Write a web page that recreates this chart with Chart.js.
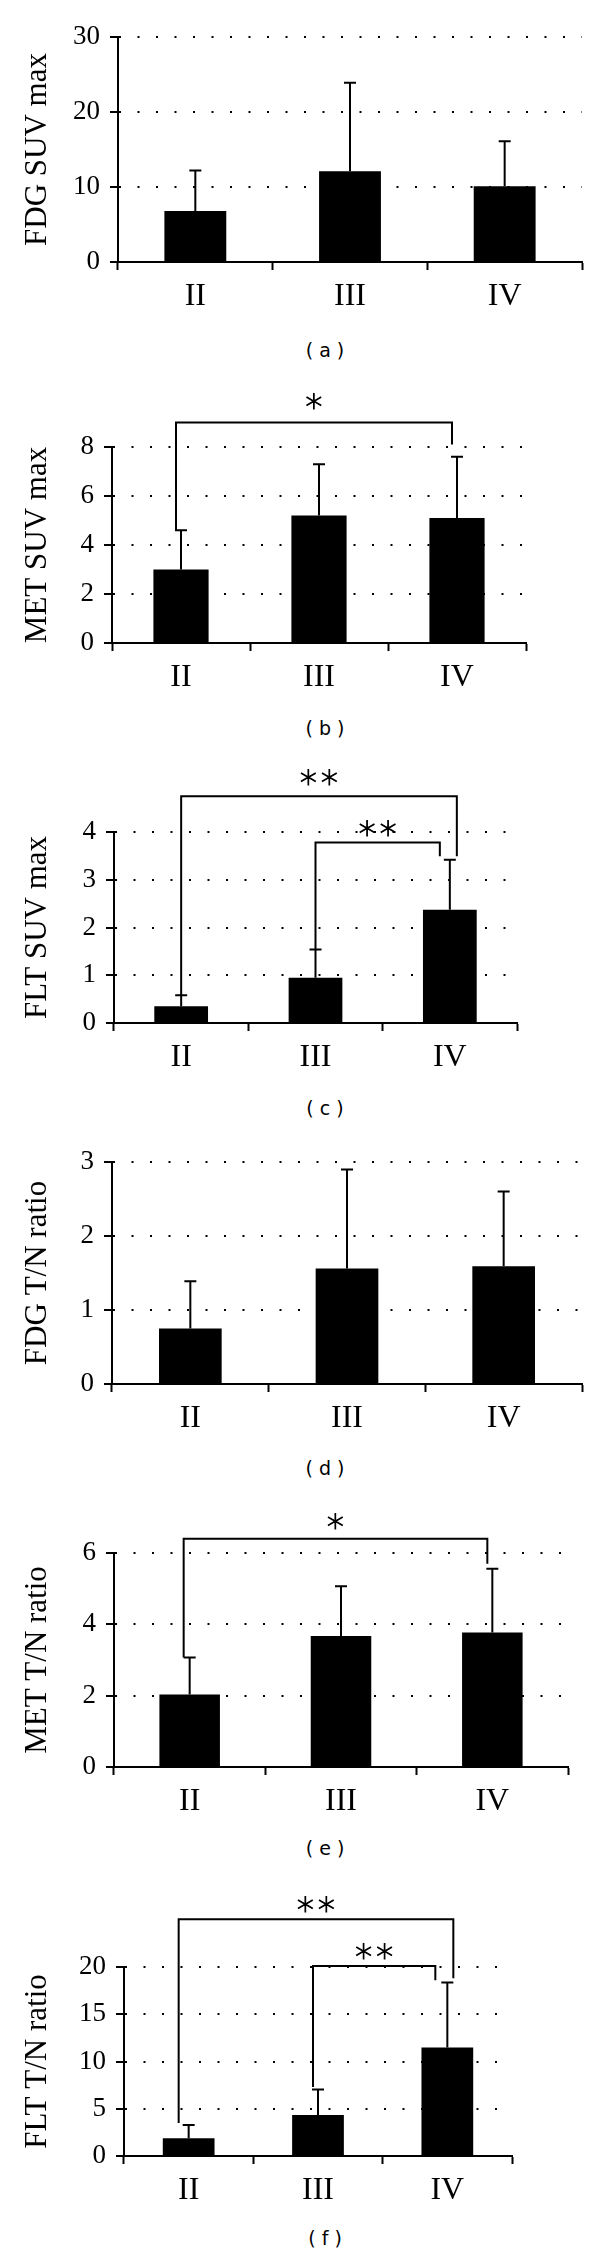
<!DOCTYPE html>
<html>
<head>
<meta charset="utf-8">
<script src="https://cdn.jsdelivr.net/npm/chart.js@4.4.1/dist/chart.umd.min.js"></script>
<style>
  html, body { margin: 0; padding: 0; background: #fff; }
  body { position: relative; width: 600px; height: 2258px; overflow: hidden; }
  canvas { position: absolute; left: 0; }
  .cap { position: absolute; width: 100px; margin-left: -50px; text-align: center;
         font: 19px "DejaVu Sans", sans-serif; color: #000; white-space: pre; line-height: 20px; }
</style>
</head>
<body>
<script>
const stages = ["II", "III", "IV"];

// (a)
const fdgSuvMean = [6.8, 12.1, 10.1];
const fdgSuvSd = [5.4, 11.8, 6.0];
const fdgSuvTicks = [0, 10, 20, 30];

// (b)
const metSuvMean = [3.0, 5.2, 5.1];
const metSuvSd = [1.6, 2.1, 2.5];
const metSuvTicks = [0, 2, 4, 6, 8];
const metSuvBrackets = [{from: 0, to: 2, top: 9.0, fromEnd: 4.6, toEnd: 8.1, mark: "*"}];

// (c)
const fltSuvMean = [0.35, 0.95, 2.37];
const fltSuvSd = [0.23, 0.59, 1.05];
const fltSuvTicks = [0, 1, 2, 3, 4];
const fltSuvBrackets = [
  {from: 0, to: 2, top: 4.75, fromEnd: 0.58, toEnd: 3.49, mark: "**"},
  {from: 1, to: 2, top: 3.78, fromEnd: 1.54, toEnd: 3.49, mark: "**"}
];

// (d)
const fdgRatioMean = [0.75, 1.56, 1.59];
const fdgRatioSd = [0.64, 1.34, 1.01];
const fdgRatioTicks = [0, 1, 2, 3];

// (e)
const metRatioMean = [2.03, 3.67, 3.77];
const metRatioSd = [1.04, 1.40, 1.79];
const metRatioTicks = [0, 2, 4, 6];
const metRatioBrackets = [{from: 0, to: 2, top: 6.4, fromEnd: 3.07, toEnd: 5.7, mark: "*"}];

// (f)
const fltRatioMean = [1.87, 4.33, 11.48];
const fltRatioSd = [1.40, 2.71, 6.87];
const fltRatioTicks = [0, 5, 10, 15, 20];
const fltRatioBrackets = [
  {from: 0, to: 2, top: 25.05, fromEnd: 3.5, toEnd: 18.8, mark: "**"},
  {from: 1, to: 2, top: 20.1, fromEnd: 7.3, toEnd: 18.6, mark: "**"}
];

const SERIF = '"Liberation Serif", "Times New Roman", serif';

// layout of each panel on the page (px)
const panels = [
  {title: "FDG SUV max", mean: fdgSuvMean, sd: fdgSuvSd, ticks: fdgSuvTicks, brackets: [],
   T: 0, H: 330, left: 118, right: 582, top: 37, bottom: 262, caption: "( a )", capY: 350, legs: []},
  {title: "MET SUV max", mean: metSuvMean, sd: metSuvSd, ticks: metSuvTicks, brackets: metSuvBrackets,
   T: 380, H: 330, left: 112, right: 526, top: 447, bottom: 643, caption: "( b )", capY: 728,
   legs: [{l: -5, r: -5, gap: 19}]},
  {title: "FLT SUV max", mean: fltSuvMean, sd: fltSuvSd, ticks: fltSuvTicks, brackets: fltSuvBrackets,
   T: 760, H: 330, left: 114, right: 517, top: 832, bottom: 1023, caption: "( c )", capY: 1108,
   legs: [{l: 0, r: 7, gap: 17}, {l: 0, r: -10, gap: 12}]},
  {title: "FDG T/N ratio", mean: fdgRatioMean, sd: fdgRatioSd, ticks: fdgRatioTicks, brackets: [],
   T: 1120, H: 330, left: 112, right: 582, top: 1162, bottom: 1384, caption: "( d )", capY: 1468, legs: []},
  {title: "MET T/N ratio", mean: metRatioMean, sd: metRatioSd, ticks: metRatioTicks, brackets: metRatioBrackets,
   T: 1490, H: 340, left: 114, right: 568, top: 1553, bottom: 1767, caption: "( e )", capY: 1848,
   legs: [{l: -6, r: -5, gap: 16}]},
  {title: "FLT T/N ratio", mean: fltRatioMean, sd: fltRatioSd, ticks: fltRatioTicks, brackets: fltRatioBrackets,
   T: 1870, H: 350, left: 124, right: 512, top: 1967, bottom: 2156, caption: "( f )", capY: 2238,
   legs: [{l: -10, r: 6, gap: 13}, {l: -5, r: -12, gap: 13}]}
];

const errorBars = {
  id: "errorBars",
  afterDatasetsDraw(chart, args, opts) {
    const ctx = chart.ctx;
    const y = chart.scales.y;
    const vals = chart.data.datasets[0].data;
    ctx.save();
    ctx.strokeStyle = "#000";
    ctx.lineWidth = 2;
    chart.getDatasetMeta(0).data.forEach((bar, i) => {
      const top = y.getPixelForValue(vals[i] + opts.sd[i]);
      ctx.beginPath();
      ctx.moveTo(bar.x, bar.y);
      ctx.lineTo(bar.x, top);
      ctx.moveTo(bar.x - 6, top);
      ctx.lineTo(bar.x + 6, top);
      ctx.stroke();
    });
    ctx.restore();
  }
};

const brackets = {
  id: "brackets",
  afterDraw(chart, args, opts) {
    const ctx = chart.ctx;
    const x = chart.scales.x, y = chart.scales.y;
    ctx.save();
    ctx.strokeStyle = "#000";
    ctx.fillStyle = "#000";
    ctx.lineWidth = 2;
    opts.list.forEach((b, k) => {
      const leg = opts.legs[k];
      const xl = x.getPixelForValue(b.from) + leg.l;
      const xr = x.getPixelForValue(b.to) + leg.r;
      const yt = y.getPixelForValue(b.top);
      ctx.lineWidth = 2;
      ctx.beginPath();
      ctx.moveTo(xl, y.getPixelForValue(b.fromEnd));
      ctx.lineTo(xl, yt);
      ctx.lineTo(xr, yt);
      ctx.lineTo(xr, y.getPixelForValue(b.toEnd));
      ctx.stroke();
      // significance marks: thin face, lightly stroked so the spokes read dark
      ctx.font = '200 34px "DejaVu Sans"';
      ctx.textAlign = "center";
      ctx.textBaseline = "middle";
      ctx.lineWidth = 0.9;
      const n = b.mark.length;
      const cx = (xl + xr) / 2;
      for (let i = 0; i < n; i++) {
        const tx = cx + (i - (n - 1) / 2) * 21;
        ctx.fillText("\u2217", tx, yt - leg.gap);
        ctx.strokeText("\u2217", tx, yt - leg.gap);
      }
    });
    ctx.restore();
  }
};

panels.forEach(p => {
  const cv = document.createElement("canvas");
  cv.width = 600;
  cv.height = p.H;
  cv.style.top = p.T + "px";
  document.body.appendChild(cv);

  const cap = document.createElement("div");
  cap.className = "cap";
  cap.textContent = p.caption;
  cap.style.left = "325px";
  cap.style.top = (p.capY - 10) + "px";
  document.body.appendChild(cap);

  const xH = p.T + p.H - p.bottom;

  new Chart(cv, {
    type: "bar",
    data: {
      labels: stages,
      datasets: [{
        data: p.mean,
        backgroundColor: "#000",
        borderWidth: 0,
        categoryPercentage: 1,
        barPercentage: 0.4
      }]
    },
    options: {
      responsive: false,
      animation: false,
      devicePixelRatio: 1,
      layout: {padding: {left: 0, right: 600 - p.right, top: p.top - p.T, bottom: 0}},
      plugins: {
        legend: {display: false},
        tooltip: {enabled: false},
        errorBars: {sd: p.sd},
        brackets: {list: p.brackets, legs: p.legs}
      },
      scales: {
        x: {
          grid: {display: true, drawOnChartArea: false, drawTicks: true, offset: true,
                 tickLength: 8, tickWidth: 2, tickColor: "#000"},
          border: {display: true, color: "#000", width: 2},
          ticks: {color: "#000", font: {family: SERIF, size: 32}, padding: 7, maxRotation: 0},
          afterFit: s => { s.height = xH; }
        },
        y: {
          min: p.ticks[0],
          max: p.ticks[p.ticks.length - 1],
          afterBuildTicks: s => { s.ticks = p.ticks.map(v => ({value: v})); },
          grid: {
            color: c => (c.tick && c.tick.value === 0) ? "rgba(0,0,0,0)" : "#000",
            lineWidth: 2, tickLength: 8, tickWidth: 2, tickColor: "#000", borderDash: [2, 16.5]
          },
          border: {display: true, color: "#000", width: 2, dash: [2, 16.5]},
          ticks: {color: "#000", font: {family: SERIF, size: 27}, padding: 10},
          title: {display: true, text: p.title, color: "#000",
                  font: {family: SERIF, size: 31, lineHeight: 1.2}, padding: {top: 19, bottom: 0}},
          afterFit: s => { s.width = p.left; }
        }
      }
    },
    plugins: [errorBars, brackets]
  });
});
</script>
</body>
</html>
